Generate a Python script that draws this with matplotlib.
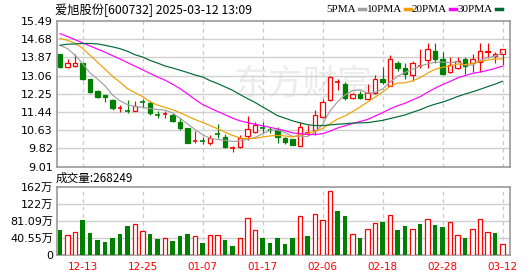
import matplotlib
matplotlib.use('Agg')
import matplotlib.pyplot as plt
from matplotlib.lines import Line2D

####################### CHART DATA #######################
dates = ['12-10', '12-11', '12-12', '12-13', '12-16', '12-17', '12-18', '12-19', '12-20', '12-23',
         '12-24', '12-25', '12-26', '12-27', '12-30', '12-31', '01-02', '01-03', '01-06', '01-07',
         '01-08', '01-09', '01-10', '01-13', '01-14', '01-15', '01-16', '01-17', '01-20', '01-21',
         '01-22', '01-23', '01-24', '01-27', '02-05', '02-06', '02-07', '02-10', '02-11', '02-12',
         '02-13', '02-14', '02-17', '02-18', '02-19', '02-20', '02-21', '02-24', '02-25', '02-26',
         '02-27', '02-28', '03-03', '03-04', '03-05', '03-06', '03-07', '03-10', '03-11', '03-12']
opens = [14.01, 13.45, 13.48, 13.62, 12.91, 12.38, 12.22, 11.97, 11.60, 11.52,
         11.49, 11.90, 11.85, 11.36, 11.32, 11.33, 11.00, 10.74, 10.13, 10.18,
         10.07, 10.50, 10.34, 9.83, 9.89, 10.37, 10.56, 10.75, 10.66, 10.63,
         10.29, 10.22, 9.94, 10.51, 10.63, 11.20, 11.97, 12.74, 12.71, 12.07,
         12.24, 12.04, 12.27, 12.93, 12.60, 13.62, 13.38, 13.08, 13.47, 13.74,
         14.16, 13.79, 13.23, 13.40, 13.78, 13.60, 13.67, 14.10, 13.93, 14.01]
highs = [14.01, 13.78, 14.04, 13.62, 12.91, 12.43, 12.22, 12.00, 11.75, 11.98,
         11.92, 12.00, 11.93, 11.48, 11.47, 11.40, 11.16, 10.74, 10.60, 10.33,
         10.43, 10.93, 10.45, 9.93, 10.40, 11.26, 11.00, 11.00, 10.78, 10.78,
         10.33, 10.22, 10.99, 10.86, 11.55, 12.00, 13.04, 12.93, 12.78, 12.30,
         12.39, 12.68, 13.09, 13.45, 14.00, 13.73, 13.60, 13.71, 14.26, 14.49,
         14.49, 14.11, 13.90, 13.87, 13.87, 14.04, 14.49, 14.53, 14.11, 14.26]
lows = [13.38, 13.38, 13.45, 12.86, 12.28, 12.05, 11.89, 11.55, 11.45, 11.40,
        11.49, 11.61, 11.30, 11.18, 11.16, 11.01, 10.62, 10.05, 10.05, 10.00,
        9.98, 10.29, 9.85, 9.66, 9.85, 10.19, 10.52, 10.50, 10.49, 10.07,
        10.03, 9.99, 9.94, 10.42, 10.41, 11.16, 11.92, 12.41, 11.97, 12.03,
        12.03, 12.04, 12.24, 12.71, 12.58, 13.27, 12.89, 12.84, 13.38, 13.38,
        13.60, 13.08, 13.19, 13.37, 13.15, 13.23, 13.23, 13.86, 13.60, 13.52]
closes = [13.45, 13.60, 13.64, 12.89, 12.34, 12.09, 12.09, 11.60, 11.61, 11.50,
          11.70, 11.88, 11.38, 11.33, 11.34, 11.05, 10.74, 10.07, 10.15, 10.14,
          10.29, 10.46, 9.89, 9.85, 10.27, 10.67, 10.86, 10.71, 10.63, 10.34,
          10.11, 9.99, 10.76, 10.53, 11.30, 11.87, 13.00, 12.76, 12.07, 12.24,
          12.07, 12.27, 12.93, 12.78, 13.80, 13.38, 13.15, 13.60, 13.49, 14.26,
          13.78, 13.15, 13.52, 13.70, 13.48, 13.82, 14.14, 14.16, 14.01, 14.23]
ma5 = [14.41, 14.26, 13.97, 13.60, 13.18, 12.91, 12.61, 12.20, 11.94, 11.77,
       11.69, 11.65, 11.60, 11.55, 11.53, 11.40, 11.17, 10.91, 10.67, 10.43,
       10.28, 10.22, 10.19, 10.13, 10.15, 10.23, 10.31, 10.47, 10.63, 10.64,
       10.53, 10.36, 10.37, 10.35, 10.54, 10.89, 11.49, 11.89, 12.20, 12.39,
       12.43, 12.28, 12.32, 12.46, 12.77, 13.03, 13.20, 13.34, 13.48, 13.58,
       13.66, 13.66, 13.64, 13.68, 13.53, 13.53, 13.73, 13.86, 13.92, 14.07]
ma10 = [14.72, 14.63, 14.50, 14.28, 13.97, 13.66, 13.35, 13.03, 12.77, 12.48,
        12.30, 12.13, 11.90, 11.75, 11.65, 11.54, 11.41, 11.26, 11.11, 10.98,
        10.84, 10.70, 10.55, 10.40, 10.29, 10.25, 10.27, 10.33, 10.38, 10.40,
        10.38, 10.33, 10.42, 10.49, 10.59, 10.71, 10.92, 11.13, 11.27, 11.46,
        11.66, 11.89, 12.10, 12.33, 12.58, 12.73, 12.74, 12.83, 12.97, 13.17,
        13.34, 13.43, 13.49, 13.58, 13.55, 13.60, 13.69, 13.75, 13.80, 13.80]
ma20 = [14.93, 14.80, 14.66, 14.52, 14.38, 14.24, 14.10, 13.95, 13.80, 13.64,
        13.48, 13.32, 13.16, 13.00, 12.86, 12.68, 12.48, 12.25, 12.00, 11.78,
        11.62, 11.47, 11.32, 11.17, 11.05, 10.97, 10.90, 10.83, 10.76, 10.69,
        10.61, 10.51, 10.48, 10.44, 10.44, 10.48, 10.59, 10.73, 10.83, 10.93,
        11.02, 11.11, 11.26, 11.41, 11.58, 11.72, 11.83, 11.98, 12.12, 12.32,
        12.50, 12.66, 12.80, 12.96, 13.06, 13.16, 13.22, 13.29, 13.38, 13.48]
ma30 = [14.41, 14.46, 14.47, 14.49, 14.49, 14.47, 14.41, 14.34, 14.26, 14.14,
        13.99, 13.89, 13.74, 13.62, 13.49, 13.40, 13.30, 13.20, 13.09, 13.00,
        12.84, 12.71, 12.56, 12.41, 12.22, 12.04, 11.87, 11.67, 11.48, 11.28,
        11.17, 11.05, 10.96, 10.88, 10.84, 10.84, 10.87, 10.90, 10.92, 10.95,
        10.96, 10.97, 11.02, 11.07, 11.15, 11.23, 11.31, 11.43, 11.54, 11.68,
        11.79, 11.88, 12.00, 12.13, 12.24, 12.34, 12.45, 12.57, 12.68, 12.81]
volume = [59.8, 48.0, 54.3, 83.5, 53.5, 36.2, 32.3, 40.9, 50.4, 69.3,
          74.0, 57.5, 50.4, 38.6, 40.2, 33.9, 45.7, 50.4, 45.7, 29.1,
          47.2, 47.2, 36.2, 22.0, 40.2, 87.4, 59.0, 40.9, 29.1, 40.9,
          26.8, 40.9, 92.9, 45.7, 97.6, 82.7, 151.2, 104.7, 92.9, 49.6,
          40.9, 61.4, 75.6, 78.7, 94.5, 59.8, 69.3, 61.4, 74.0, 85.0,
          71.6, 66.9, 77.9, 47.2, 40.9, 61.4, 85.0, 54.3, 52.7, 26.82]  # 万手
vol_up = [0, 1, 1, 0, 0, 0, 0, 0, 0, 0,
          1, 1, 0, 0, 1, 0, 0, 0, 1, 0,
          1, 1, 0, 0, 1, 1, 1, 0, 0, 0,
          0, 0, 1, 0, 1, 1, 1, 0, 0, 1,
          0, 1, 1, 0, 1, 0, 0, 1, 0, 1,
          0, 0, 1, 1, 0, 1, 1, 1, 0, 1]
price_ticks = [9.01, 9.82, 10.63, 11.44, 12.25, 13.06, 13.87, 14.68, 15.49]
vol_ticks = [0, 40.55, 81.09, 121.64, 162.18]
vol_labels = ['0', '40.55万', '81.09万', '122万', '162万']
tick_dates = ['12-13', '12-25', '01-07', '01-17', '02-06', '02-18', '02-28', '03-12']
title = '爱旭股份[600732] 2025-03-12 13:09'
vol_title = '成交量:268249'
####################### CHART DATA #######################

RED = '#ff0000'
GREEN = '#008000'
GRID = '#d0d0d0'
SPINE = '#999999'
ma_series = [('5PMA', ma5, '#a0a0a0'), ('10PMA', ma10, '#f0a000'),
             ('20PMA', ma20, '#ff00ff'), ('30PMA', ma30, '#006a33')]
CJK = ['Noto Sans CJK SC', 'DejaVu Sans']
W, H = 530, 276

fig = plt.figure(figsize=(W / 100, H / 100), dpi=100)
ax = fig.add_axes([57 / W, 1 - 166.7 / H, 453 / W, 145.7 / H])
axv = fig.add_axes([57 / W, 1 - 255.3 / H, 453 / W, 68.6 / H])
xs = list(range(len(dates)))
tick_pos = [dates.index(d) for d in tick_dates]

for a in (ax, axv):
    a.set_xlim(-0.4, len(dates))
    for s in a.spines.values():
        s.set_color(SPINE)
        s.set_linewidth(1.2)
    a.tick_params(length=0, labelsize=8, pad=3)
    for p in tick_pos:
        a.axvline(p, color='#c8c8c8', lw=0.9, ls=(0, (3, 3)), zorder=1)

# price panel
ax.set_ylim(price_ticks[0], price_ticks[-1])
ax.set_yticks(price_ticks)
ax.set_yticklabels(['%.2f' % t for t in price_ticks])
ax.set_xticks([])
for t in price_ticks[1:-1]:
    ax.axhline(t, color=GRID, lw=1, zorder=1)
ax.text(233 / W, 1 - 84 / H, '东方财富', transform=fig.transFigure, fontsize=25,
        family=CJK, color='#ececec', va='center', ha='left', zorder=0.5)

for i in xs:
    o, h, l, c = opens[i], highs[i], lows[i], closes[i]
    up = c >= o
    col = RED if up else GREEN
    ax.vlines(i, l, h, color=col, lw=0.85, zorder=2)
    if abs(c - o) < 0.04:
        ax.hlines(c, i - 0.32, i + 0.32, color=col, lw=1.2, zorder=3)
    else:
        ax.bar(i, abs(c - o), bottom=min(o, c), width=0.62,
               facecolor='white' if up else GREEN, edgecolor=col, lw=0.9, zorder=3)

for name, vals, col in ma_series:
    ax.plot(xs, vals, color=col, lw=0.85, zorder=4)

# volume panel
axv.set_ylim(0, vol_ticks[-1])
axv.set_yticks(vol_ticks)
axv.set_yticklabels(vol_labels, family=['DejaVu Sans', 'Noto Sans CJK SC'])
for t in vol_ticks[1:-1]:
    axv.axhline(t, color=GRID, lw=1, zorder=1)
for i in xs:
    if vol_up[i]:
        axv.bar(i, volume[i], width=0.6, facecolor='white', edgecolor=RED, lw=0.9, zorder=3)
    else:
        axv.bar(i, volume[i], width=0.66, color=GREEN, lw=0, zorder=3)
axv.set_xticks(tick_pos)
axv.set_xticklabels(tick_dates, color=RED, fontsize=7.5)
axv.tick_params(axis='x', pad=5)

# header texts
fig.text(55 / W, 1 - 10 / H, title, family=CJK, fontsize=8.8, va='center', ha='left')
fig.text(56 / W, 1 - 178 / H, vol_title, family=CJK, fontsize=8.4, va='center', ha='left')
leg_x = [326, 367, 412, 458]
for (name, vals, col), lx in zip(ma_series, leg_x):
    t = fig.text(lx / W, 1 - 9 / H, name, family='Liberation Serif', fontsize=8,
                 va='center', ha='left')
    fig.canvas.draw()
    bb = t.get_window_extent()
    x0 = bb.x1 + 3
    fig.add_artist(Line2D([x0 / W, (x0 + 6) / W], [1 - 9 / H, 1 - 9 / H],
                          transform=fig.transFigure, color=col, lw=2.5))

fig.savefig('out.png', dpi=100)
